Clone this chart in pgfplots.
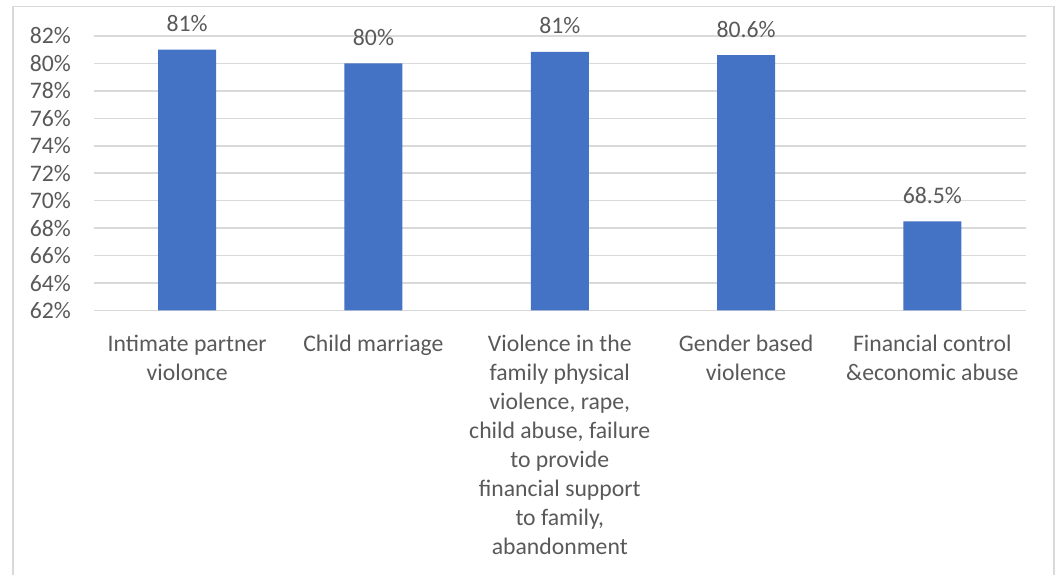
\documentclass[border=0pt]{standalone}
\usepackage{pgfplots}
\pgfplotsset{compat=1.18}
\usepackage{pgfplotstable}
\usepackage{fontspec}
\setmainfont{Carlito}
\definecolor{barblue}{HTML}{4472C4}
\definecolor{gridgray}{HTML}{D9D9D9}
\definecolor{txtgray}{HTML}{595959}
\pgfplotstableread{
x y lab
0 81.0 81
1 80.0 80
2 80.85 81
3 80.6 80.6
4 68.5 68.5
}\datatable
\begin{document}
\begin{tikzpicture}
\path[use as bounding box] (0,0) rectangle (1061bp,575bp);
\draw[gridgray, line width=1.5bp] (13bp,-2bp) -- (13bp,568.5bp) -- (1054bp,568.5bp) -- (1054bp,-2bp);
\begin{axis}[
  at={(94bp,264.5bp)}, anchor=south west,
  scale only axis, width=931.5bp, height=274.5bp,
  xmin=-0.5, xmax=4.5, ymin=62, ymax=82,
  ytick={62,64,...,82},
  yticklabel={\pgfmathprintnumber{\tick}\%},
  /pgf/number format/assume math mode=true,
  xtick={0,1,2,3,4},
  xticklabels={{Intimate partner\\violonce},{Child marriage},{Violence in the\\family physical\\violence, rape,\\child abuse, failure\\to provide\\financial support\\to family,\\abandonment},{Gender based\\violence},{Financial control\\\&economic abuse}},
  every tick label/.append style={font=\fontsize{23.8}{29.2}\selectfont, text=txtgray},
  xticklabel style={align=center, anchor=north, inner sep=0pt, yshift=-24bp},
  yticklabel style={anchor=east, inner sep=0pt, xshift=-23bp},
  ymajorgrids, grid style={gridgray, line width=1.5bp},
  axis line style={draw=none},
  major tick length=0pt, tick style={draw=none},
]
\addplot[ybar, fill=barblue, draw=none, bar width=58bp,
  point meta=explicit symbolic,
  nodes near coords={\pgfplotspointmeta\%},
  every node near coord/.append style={font=\fontsize{23.8}{29.2}\selectfont, text=txtgray, inner sep=0pt, anchor=south, yshift=17.5bp}]
  table[x=x, y=y, meta=lab] {\datatable};
\end{axis}
\end{tikzpicture}
\end{document}
